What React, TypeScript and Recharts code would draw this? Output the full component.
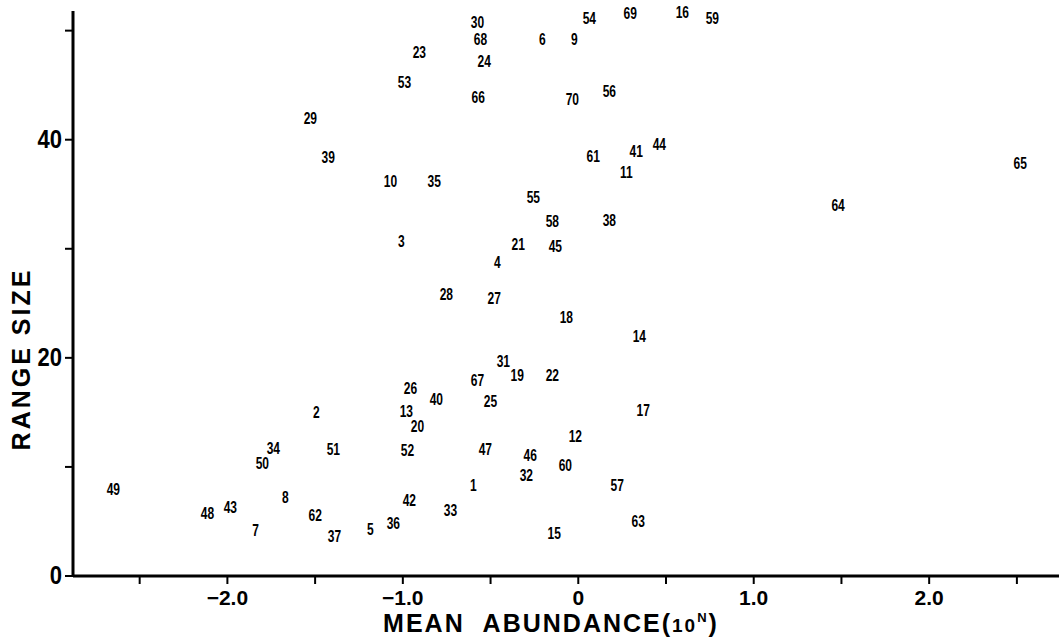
import React from 'react';
import { ScatterChart, Scatter, XAxis, YAxis, Label } from 'recharts';

const speciesLabels: string[] = [
  '30', '54', '69', '16', '59', '68', '6', '9', '23', '24',
  '53', '66', '70', '56', '29', '39', '61', '41', '44', '11',
  '65', '10', '35', '55', '64', '58', '38', '3', '21', '45',
  '4', '28', '27', '18', '14', '31', '19', '22', '67', '26',
  '40', '25', '2', '13', '17', '20', '12', '34', '51', '52',
  '47', '46', '50', '60', '32', '49', '57', '1', '8', '42',
  '48', '43', '62', '33', '63', '7', '5', '36', '37', '15',
];

const meanAbundance: number[] = [
  -0.575, 0.063, 0.296, 0.593, 0.764, -0.558, -0.205, -0.023, -0.906, -0.536,
  -0.991, -0.570, -0.034, 0.177, -1.527, -1.425, 0.085, 0.330, 0.462, 0.274,
  2.519, -1.071, -0.821, -0.256, 1.481, -0.148, 0.177, -1.009, -0.342, -0.131,
  -0.462, -0.752, -0.479, -0.068, 0.348, -0.427, -0.348, -0.148, -0.575, -0.957,
  -0.809, -0.501, -1.493, -0.980, 0.370, -0.917, -0.017, -1.738, -1.396, -0.974,
  -0.530, -0.274, -1.801, -0.074, -0.296, -2.650, 0.222, -0.598, -1.670, -0.963,
  -2.114, -1.983, -1.499, -0.729, 0.342, -1.840, -1.185, -1.054, -1.390, -0.137,
];

const rangeSize: number[] = [
  50.8, 51.1, 51.6, 51.7, 51.1, 49.2, 49.2, 49.2, 48.0, 47.2,
  45.3, 43.9, 43.7, 44.4, 42.0, 38.4, 38.5, 38.9, 39.6, 37.0,
  37.8, 36.2, 36.2, 34.7, 34.0, 32.5, 32.6, 30.7, 30.4, 30.2,
  28.8, 25.8, 25.5, 23.7, 22.0, 19.7, 18.4, 18.4, 17.9, 17.2,
  16.2, 16.0, 15.0, 15.1, 15.2, 13.7, 12.8, 11.7, 11.6, 11.5,
  11.6, 11.1, 10.3, 10.1, 9.2, 7.9, 8.3, 8.3, 7.2, 6.9,
  5.7, 6.3, 5.6, 6.0, 5.0, 4.2, 4.3, 4.8, 3.6, 3.9,
];

const xTicks: number[] = [-2.5, -2, -1.5, -1, -0.5, 0, 0.5, 1, 1.5, 2, 2.5];
const xTickLabels: Record<string, string> = { '-2': '−2.0', '-1': '−1.0', '0': '0', '1': '1.0', '2': '2.0' };
const yTicks: number[] = [0, 10, 20, 30, 40, 50];
const yTickLabels: Record<string, string> = { '0': '0', '20': '20', '40': '40' };

const data = speciesLabels.map((label, i) => ({
  label,
  x: meanAbundance[i],
  y: rangeSize[i],
}));

const FONT = "'Liberation Sans', Arial, Helvetica, sans-serif";

const renderPoint = (props: any) => {
  const { cx, cy, payload } = props;
  if (cx == null || cy == null) return <g />;
  return (
    <text
      transform={`translate(${cx},${cy}) scale(0.75,1)`}
      x={0}
      y={0}
      textAnchor="middle"
      dominantBaseline="central"
      fontFamily={FONT}
      fontWeight="bold"
      fontSize={16}
      fill="#000"
    >
      {payload.label}
    </text>
  );
};

const XTick = (props: any) => {
  const { x, y, payload } = props;
  const txt = xTickLabels[String(payload.value)];
  if (!txt) return <g />;
  return (
    <text x={x} y={y} dy="0.71em" textAnchor="middle" fontFamily={FONT} fontWeight="bold" fontSize={21} fill="#000">
      {txt}
    </text>
  );
};

const YTick = (props: any) => {
  const { x, y, payload } = props;
  const txt = yTickLabels[String(payload.value)];
  if (!txt) return <g />;
  return (
    <text
      transform={`translate(${x},${y}) scale(0.88,1)`}
      x={0}
      y={0}
      textAnchor="end"
      dominantBaseline="central"
      fontFamily={FONT}
      fontWeight="bold"
      fontSize={25}
      fill="#000"
    >
      {txt}
    </text>
  );
};

const renderXTitle = (props: any) => {
  const vb = props.viewBox || { x: 73, y: 576, width: 985, height: 66 };
  const cx = vb.x + vb.width / 2 - 15;
  const y = vb.y + 56;
  return (
    <text x={cx} y={y} textAnchor="middle" fontFamily={FONT} fontWeight="bold" fontSize={25} letterSpacing={2} fill="#000">
      MEAN{'\u00A0\u00A0'}ABUNDANCE(<tspan fontSize={19}>10</tspan>
      <tspan fontSize={13} dy={-10}>N</tspan>
      <tspan fontSize={25} dy={10}>)</tspan>
    </text>
  );
};

const renderYTitle = () => {
  const x = 30;
  const y = 359;
  return (
    <text
      x={x}
      y={y}
      textAnchor="middle"
      transform={`rotate(-90 ${x} ${y})`}
      fontFamily={FONT}
      fontWeight="bold"
      fontSize={25}
      letterSpacing={3}
      fill="#000"
    >
      RANGE SIZE
    </text>
  );
};

export default function App() {
  return (
    <div style={{ position: 'absolute', left: 0, top: 0, background: '#fff' }}>
      <ScatterChart width={1062} height={642} margin={{ top: 11, right: 3, bottom: 0, left: 0 }}>
        <XAxis
          type="number"
          dataKey="x"
          domain={[-2.88, 2.74]}
          ticks={xTicks}
          height={66}
          tickSize={8}
          tickMargin={6}
          axisLine={{ stroke: '#000', strokeWidth: 3 }}
          tickLine={{ stroke: '#000', strokeWidth: 2 }}
          tick={<XTick />}
          interval={0}
        >
          <Label content={renderXTitle} />
        </XAxis>
        <YAxis
          type="number"
          dataKey="y"
          domain={[0, 51.8]}
          ticks={yTicks}
          width={73}
          tickSize={8}
          tickMargin={3}
          axisLine={{ stroke: '#000', strokeWidth: 3 }}
          tickLine={{ stroke: '#000', strokeWidth: 2 }}
          tick={<YTick />}
          interval={0}
        >
          <Label content={renderYTitle} />
        </YAxis>
        <Scatter data={data} shape={renderPoint} isAnimationActive={false} />
      </ScatterChart>
    </div>
  );
}
